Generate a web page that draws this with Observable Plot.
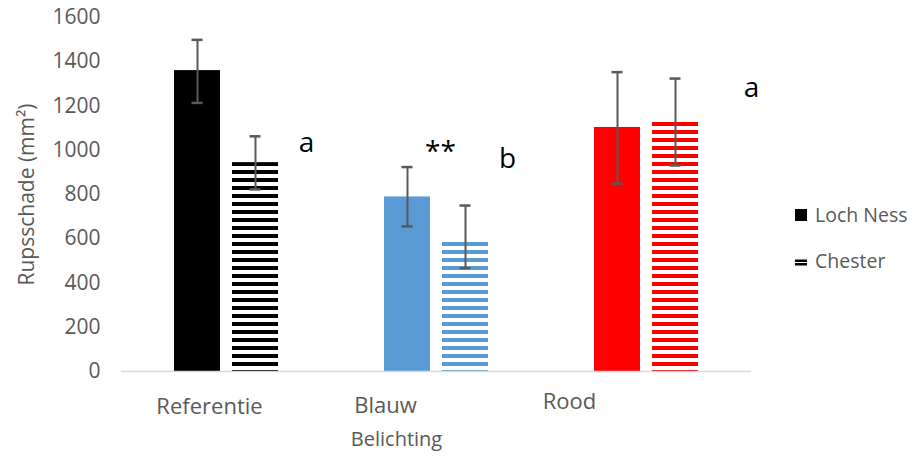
<!DOCTYPE html>
<html><head><meta charset="utf-8">
<script src="https://cdn.jsdelivr.net/npm/d3@7"></script>
<script src="https://cdn.jsdelivr.net/npm/@observablehq/plot@0.6"></script>
<style>
body{margin:0;background:#fff;}
#wrap{position:relative;width:914px;height:457px;font-family:"Open Sans",sans-serif;overflow:hidden;}
#wrap > svg{position:absolute;left:0;top:0;}
.leg{position:absolute;left:795px;font-size:19.5px;color:#595959;line-height:1;white-space:nowrap;display:flex;align-items:center;}
.leg svg{margin-right:8px;}
</style></head><body><div id="wrap"></div>
<script>
// ---- data ----
const groups = ["Referentie", "Blauw", "Rood"];
const series = ["Loch Ness", "Chester"];
const lochNessMean = [1360, 789, 1103];
const lochNessLow  = [1214, 656, 849];
const lochNessHigh = [1499, 924, 1353];
const chesterMean  = [944, 585, 1128];
const chesterLow   = [823, 467, 931];
const chesterHigh  = [1063, 750, 1324];
const groupColors  = ["#000000", "#5B9BD5", "#FF0000"];
const yTicks = [0, 200, 400, 600, 800, 1000, 1200, 1400, 1600];
const yTitle = "Rupsschade (mm²)";
const xTitle = "Belichting";
const annotGroups = ["Referentie", "Blauw", "Blauw", "Rood"];
const annotLabels = ["a", "**", "b", "a"];
const annotValues = [1032, 990, 960, 1281];

// ---- layout / style ----
const annotDx = [80, 4, 71, 105];
const fxLabelDx = [-17, -51, -77];
const fxLabelDy = [42.5, 41, 37.5];

const rows = [];
groups.forEach((g, i) => {
  rows.push({group: g, series: "Loch Ness", mean: lochNessMean[i], low: lochNessLow[i], high: lochNessHigh[i], fill: groupColors[i]});
  rows.push({group: g, series: "Chester", mean: chesterMean[i], low: chesterLow[i], high: chesterHigh[i], fill: `url(#stripe-${i})`});
});

const grey = "#595959";
const svg = Plot.plot({
  width: 914, height: 457,
  marginLeft: 120, marginRight: 162, marginTop: 17, marginBottom: 86,
  style: {fontFamily: '"Open Sans", sans-serif', background: "transparent", overflow: "visible"},
  fx: {domain: groups, padding: 0, label: null, axis: null},
  x: {domain: series, paddingInner: 0.2, paddingOuter: 0.89, axis: null},
  y: {domain: [0, 1600], label: null},
  color: {type: "identity"},
  marks: [
    Plot.barY(rows, {fx: "group", x: "series", y: "mean", fill: "fill"}),
    Plot.ruleY([0], {stroke: "#d9d9d9", strokeWidth: 1.5}),
    Plot.ruleX(rows, {fx: "group", x: "series", y1: "low", y2: "high", stroke: grey, strokeWidth: 2}),
    Plot.tickY(rows, {fx: "group", x: "series", y: "high", stroke: grey, strokeWidth: 2.5, insetLeft: 17.5, insetRight: 17.5}),
    Plot.tickY(rows, {fx: "group", x: "series", y: "low", stroke: grey, strokeWidth: 2.5, insetLeft: 17.5, insetRight: 17.5}),
    Plot.axisY(yTicks, {tickSize: 0, tickPadding: 21, fontSize: 21, fill: grey, label: null, tickFormat: d => String(d)}),
    ...groups.map((g, i) => Plot.text([g], {fx: d => d, text: d => d, frameAnchor: "bottom", dx: fxLabelDx[i], dy: fxLabelDy[i], fontSize: 22, fill: grey})),
    Plot.text([yTitle], {frameAnchor: "left", textAnchor: "middle", rotate: -90, dx: -94, fontSize: 21, fill: grey, facet: "super"}),
    Plot.text([xTitle], {frameAnchor: "bottom", dx: -40, dy: 74, fontSize: 20, fill: grey, facet: "super"}),
    ...annotLabels.map((t, i) => Plot.text([{group: annotGroups[i], v: annotValues[i], t}], {fx: "group", y: "v", text: "t", dx: annotDx[i], fontSize: 28, fill: "#000"}))
  ]
});

const defs = d3.select(svg).insert("defs", ":first-child");
groupColors.forEach((c, i) => {
  const p = defs.append("pattern").attr("id", "stripe-" + i).attr("patternUnits", "userSpaceOnUse")
    .attr("width", 8).attr("height", 8);
  p.append("rect").attr("x", 0).attr("y", 2).attr("width", 8).attr("height", 4).attr("fill", c);
});

const wrap = document.getElementById("wrap");
wrap.appendChild(svg);

// legend
const leg1 = document.createElement("div");
leg1.className = "leg"; leg1.style.top = "205px";
leg1.innerHTML = `<svg width="12" height="12"><rect width="12" height="12" fill="#000"/></svg><span>${series[0]}</span>`;
const leg2 = document.createElement("div");
leg2.className = "leg"; leg2.style.top = "251px";
leg2.innerHTML = `<svg width="12" height="12"><rect y="4.5" width="12" height="2.5" fill="#000"/><rect y="8" width="12" height="2.5" fill="#000"/></svg><span>${series[1]}</span>`;
wrap.appendChild(leg1);
wrap.appendChild(leg2);
</script></body></html>
